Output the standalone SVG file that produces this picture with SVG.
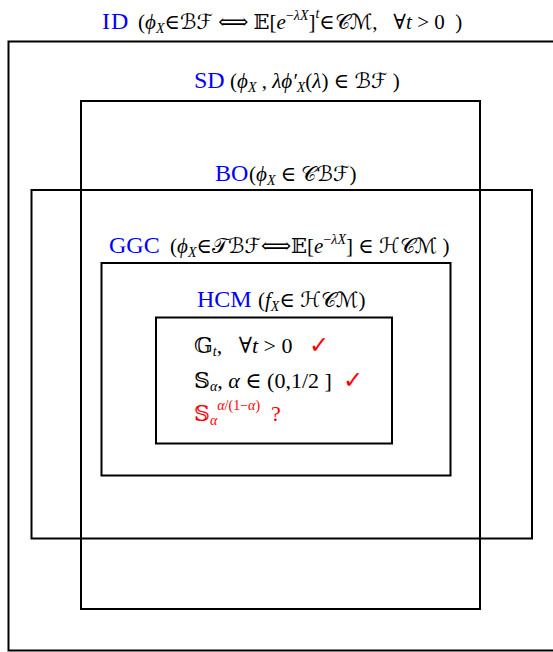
<svg xmlns="http://www.w3.org/2000/svg" width="553" height="652" viewBox="0 0 553 652">
<style>
.box{fill:none;stroke:#000;stroke-width:2}
text{font-family:"Liberation Serif","DejaVu Serif","DejaVu Sans",serif;font-size:21px;fill:#000}
.lbl{fill:#0000ff;font-size:24px}
.it{font-style:italic}
.s{font-size:14px}
.red{fill:#ff0000}
.in{font-size:22px}
.ck{font-size:24px;fill:#ff0000}
</style>
<rect width="553" height="652" fill="#fff"/>
<g id="ID">
<rect class="box" x="8.5" y="41.5" width="560" height="609"/>
<text y="29"><tspan class="lbl" x="102" letter-spacing="1">ID</tspan><tspan x="138">(</tspan><tspan class="it">ϕ</tspan><tspan class="s it" dy="4">X</tspan><tspan dy="-4">∈ℬℱ</tspan><tspan>&#160;⟺&#160;</tspan><tspan>𝔼[</tspan><tspan class="it">e</tspan><tspan class="s" dy="-9">−</tspan><tspan class="s it">λX</tspan><tspan dy="9">]</tspan><tspan class="s it" dy="-11">t</tspan><tspan dy="11">∈𝒞ℳ,&#160;&#160;&#160;∀</tspan><tspan class="it">t</tspan><tspan>&#160;&gt;&#160;0&#160;&#160;)</tspan></text>
</g>
<g id="SD">
<rect class="box" x="81" y="101" width="399" height="508"/>
<text y="88"><tspan class="lbl" x="194">SD</tspan><tspan x="230">(</tspan><tspan class="it">ϕ</tspan><tspan class="s it" dy="4">X</tspan><tspan dy="-4">&#160;,&#160;</tspan><tspan class="it">λϕ′</tspan><tspan class="s it" dy="4">X</tspan><tspan dy="-4">(</tspan><tspan class="it">λ</tspan><tspan>)&#160;∈&#160;ℬℱ&#160;)</tspan></text>
</g>
<g id="BO">
<rect class="box" x="31.5" y="190" width="500.5" height="348.5"/>
<text y="181"><tspan class="lbl" x="215">BO</tspan><tspan x="249">(</tspan><tspan class="it">ϕ</tspan><tspan class="s it" dy="4">X</tspan><tspan dy="-4"> ∈ 𝒞ℬℱ)</tspan></text>
</g>
<g id="GGC">
<rect class="box" x="101.5" y="263" width="349" height="212.5"/>
<text y="253"><tspan class="lbl" x="109">GGC</tspan><tspan x="170">(</tspan><tspan class="it">ϕ</tspan><tspan class="s it" dy="4">X</tspan><tspan dy="-4">∈𝒯ℬℱ⟺𝔼[</tspan><tspan class="it">e</tspan><tspan class="s" dy="-9">−</tspan><tspan class="s it">λX</tspan><tspan dy="9">] ∈ ℋ𝒞ℳ )</tspan></text>
</g>
<g id="HCM">
<rect class="box" x="156" y="317.5" width="236" height="126"/>
<text y="307"><tspan class="lbl" x="197">HCM</tspan><tspan x="258">(</tspan><tspan class="it">f</tspan><tspan class="s it" dy="4">X</tspan><tspan dy="-4">∈ ℋ𝒞ℳ)</tspan></text>
<text y="353" class="in"><tspan x="194">𝔾</tspan><tspan class="s it" dy="3">t</tspan><tspan dy="-3">,&#160;&#160;&#160;∀</tspan><tspan class="it">t</tspan><tspan>&#160;&gt;&#160;0&#160;&#160;&#160;</tspan><tspan class="ck">✓</tspan></text>
<text y="388" class="in"><tspan x="194">𝕊</tspan><tspan class="s it" dy="3">α</tspan><tspan dy="-3">,&#160;</tspan><tspan class="it">α</tspan><tspan>&#160;∈&#160;(0,1/2&#160;]&#160;&#160;</tspan><tspan class="ck">✓</tspan></text>
<text y="421" class="in red"><tspan x="194">𝕊</tspan><tspan class="s it" dy="4">α</tspan><tspan class="s it" dy="-15">α</tspan><tspan class="s">/(1−</tspan><tspan class="s it">α</tspan><tspan class="s">)</tspan><tspan dy="11">&#160;&#160;?</tspan></text>
</g>
</svg>
